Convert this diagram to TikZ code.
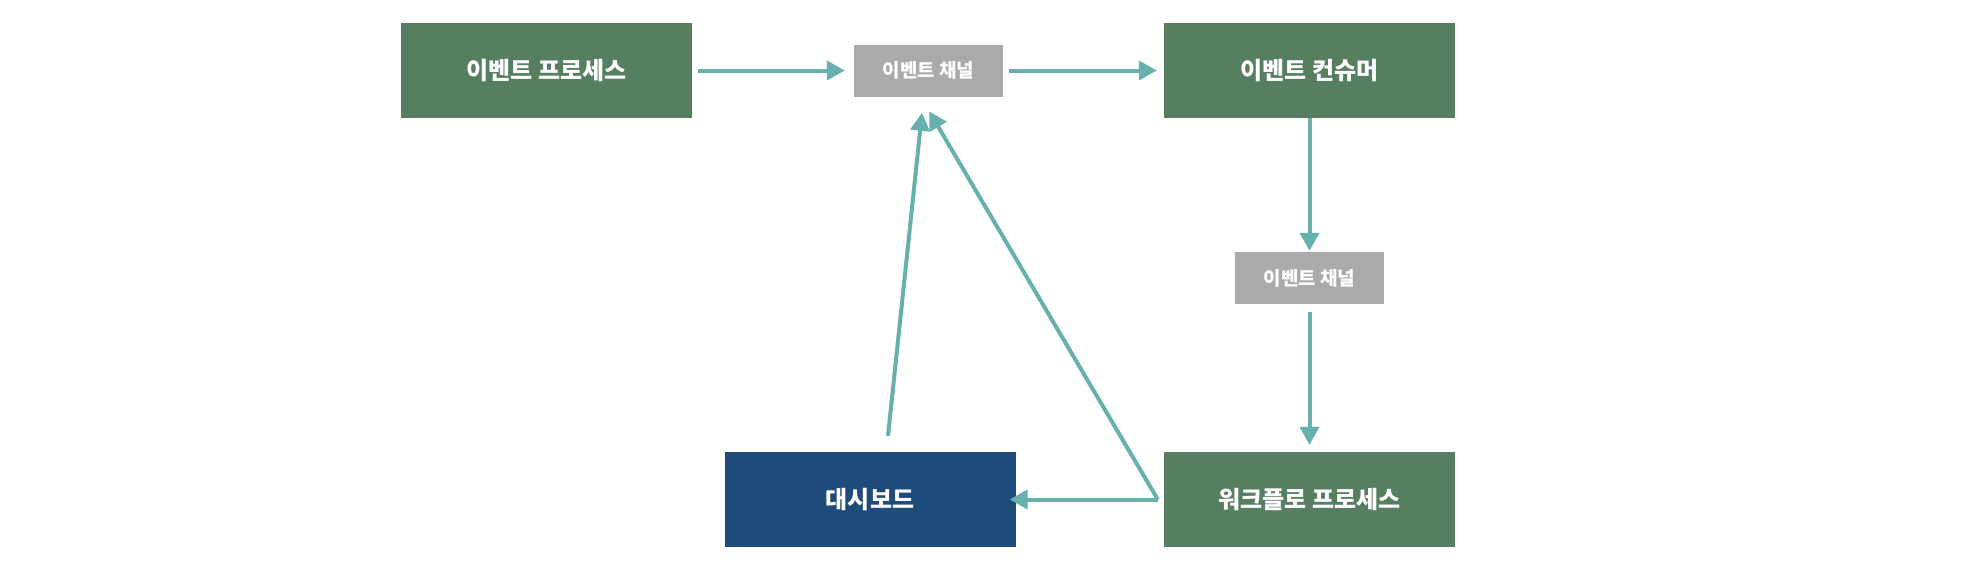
\documentclass[tikz,border=0pt]{standalone}
\usepackage{fontspec}
\newfontfamily\krfont{Noto Sans CJK KR}
\usetikzlibrary{arrows.meta,calc,positioning}
\definecolor{evGreen}{HTML}{567F62}
\definecolor{evBlue}{HTML}{1F4B7A}
\definecolor{evGray}{HTML}{AAAAAA}
\definecolor{evTeal}{HTML}{66B0AE}

\begin{document}
\begin{tikzpicture}[x=1pt, y=-1pt,
    procbox/.style={fill=evGreen, text=white, minimum width=291pt, minimum height=95pt,
      inner sep=0pt, font=\krfont\bfseries\fontsize{24}{28}\selectfont},
    dashbox/.style={procbox, fill=evBlue},
    chanbox/.style={fill=evGray, text=white, minimum width=149pt, minimum height=52pt,
      inner sep=0pt, font=\krfont\bfseries\fontsize{19}{22}\selectfont},
    flowarrow/.style={evTeal, line width=4pt, -{Triangle[length=18pt,width=19pt]}}]

    % === Canvas ===
    \fill[white] (0,0) rectangle (1976,566);
    \useasboundingbox (0,0) rectangle (1976,566);

    % === Boxes ===
    \node[procbox] (evproc) at (546.5,70.5) {이벤트 프로세스};
    \node[chanbox] (chan1) at (928.5,70.5) {이벤트 채널};
    \node[procbox] (evcons) at (1309.5,70.5) {이벤트 컨슈머};
    \node[chanbox] (chan2) at (1309.5,278) {이벤트 채널};
    \node[procbox] (wfproc) at (1309.5,499.5) {워크플로 프로세스};
    \node[dashbox] (dash) at (870,499.5) {대시보드};

    % === Helper points ===
    \coordinate (split) at ($(wfproc.west)+(-6,0)$);
    \coordinate (dashtop) at ($(dash.north)+(18,-16)$);
    \coordinate (chanfootL) at ($(chan1.south)+(-6.5,16)$);
    \coordinate (chanfootR) at ($(chan1.south)+(-8,0)$);

    % === Event flow ===
    \draw[flowarrow, shorten <=6pt, shorten >=9pt] (evproc.east) -- (chan1.west);
    \draw[flowarrow, shorten <=6pt, shorten >=7pt] (chan1.east) -- (evcons.west);
    \draw[flowarrow, shorten >=1pt] (evcons.south) -- (chan2.north);
    \draw[flowarrow, shorten <=8pt, shorten >=7pt] (chan2.south) -- (wfproc.north);

    % === Workflow feedback ===
    \draw[flowarrow, shorten >=-6pt] (split) -- (dash.east);
    \draw[flowarrow, shorten >=17pt] (split) -- (chanfootR);
    \draw[flowarrow] (dashtop) -- (chanfootL);
\end{tikzpicture}
\end{document}
